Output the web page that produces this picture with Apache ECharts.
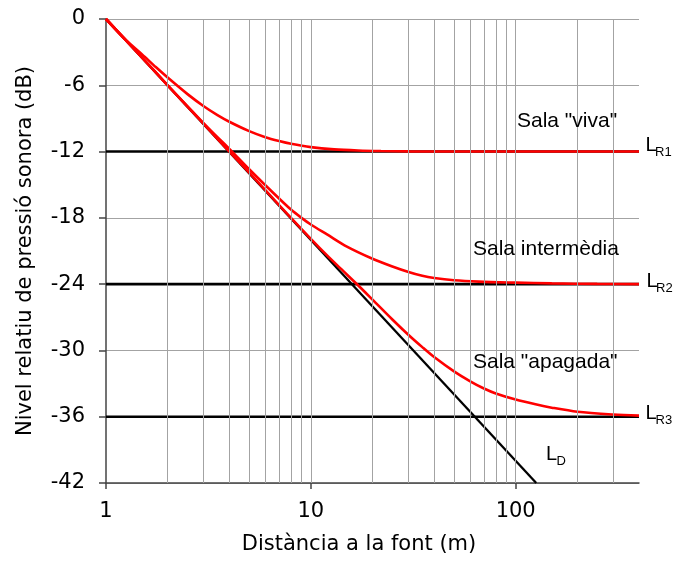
<!DOCTYPE html>
<html>
<head>
<meta charset="utf-8">
<script src="https://cdn.jsdelivr.net/npm/echarts@6/dist/echarts.min.js"></script>
<style>
  html, body { margin: 0; padding: 0; background: #fff; }
  #chart { width: 678px; height: 582px; }
</style>
</head>
<body>
<div id="chart"></div>
<script>
// Distance from the source (m), log scale
const xRange = [1, 400];
const xMajorTicks = [1, 10, 100];
const xGridLines = [2, 3, 4, 5, 6, 7, 8, 9, 10, 20, 30, 40, 50, 60, 70, 80, 90, 100, 200, 300];

// Relative level (dB)
const yRange = [-42, 0];
const yStep = 6;

// Reverberant field levels L_R1, L_R2, L_R3
const reverbLevels = [-12, -24, -36];

// Direct field L_D: straight line on the log axis
const directField = [[1, 0], [126, -42]];

// Total level in each room: [distance, dB]
const salaViva = [
  [1, 0], [1.25, -1.9], [1.5, -3.2], [1.75, -4.35], [2, -5.3], [2.5, -6.8], [3, -7.9],
  [3.5, -8.7], [4, -9.3], [5, -10.15], [6, -10.7], [7, -11.05], [8, -11.3], [10, -11.6],
  [13, -11.8], [17, -11.9], [22, -11.95], [30, -11.98], [45, -12], [400, -12]
];
const salaIntermedia = [
  [1, 0], [1.5, -3.5], [2, -6.0], [2.5, -7.9], [3, -9.45], [3.5, -10.7], [4, -11.75],
  [5, -13.6], [6, -15.05], [7, -16.25], [8, -17.25], [9, -18.0], [10, -18.6], [12, -19.5],
  [15, -20.6], [20, -21.7], [25, -22.4], [30, -22.9], [35, -23.25], [40, -23.45],
  [50, -23.65], [66, -23.77], [100, -23.86], [150, -23.93], [250, -23.98], [400, -24]
];
const salaApagada = [
  [1, 0], [1.5, -3.5], [2, -6.0], [3, -9.5], [4, -12.0], [5, -13.9], [6, -15.5],
  [8, -18.0], [10, -19.9], [12, -21.4], [14, -22.6], [17, -24.1], [20, -25.4],
  [25, -27.2], [30, -28.6], [35, -29.7], [40, -30.6], [50, -31.9], [60, -32.8],
  [70, -33.45], [80, -33.9], [100, -34.45], [125, -34.88], [150, -35.18], [200, -35.55],
  [300, -35.8], [400, -35.9]
];

const RED = '#ff0000';
const BLACK = '#000000';
const GRID = '#a3a3a3';
const AXIS = '#444444';
const AXIS_FONT = '"DejaVu Sans", Verdana, sans-serif';
const NOTE_FONT = '"Liberation Sans", Arial, sans-serif';

const chart = echarts.init(document.getElementById('chart'), null, { renderer: 'canvas' });

const series = [];

// vertical grid lines at 2..9, 20..90, 200, 300
series.push({
  type: 'line',
  data: [],
  z: 1,
  silent: true,
  markLine: {
    silent: true,
    symbol: ['none', 'none'],
    label: { show: false },
    lineStyle: { type: 'solid', color: GRID, width: 1 },
    emphasis: { disabled: true },
    animation: false,
    data: xGridLines.map(v => ({ xAxis: v }))
  }
});

reverbLevels.forEach(level => {
  series.push({
    type: 'line',
    data: [[xRange[0], level], [xRange[1], level]],
    symbol: 'none',
    z: 2,
    lineStyle: { color: BLACK, width: 2.6 },
    silent: true
  });
});

series.push({
  type: 'line',
  data: directField,
  symbol: 'none',
  z: 2,
  lineStyle: { color: BLACK, width: 2.3 },
  silent: true
});

[salaViva, salaIntermedia, salaApagada].forEach(curve => {
  series.push({
    type: 'line',
    data: curve,
    symbol: 'none',
    smooth: 0.3,
    z: 3,
    lineStyle: { color: RED, width: 2.6 },
    silent: true
  });
});

function note(text, x, y, size) {
  return {
    type: 'text',
    x: x,
    y: y,
    z: 10,
    style: {
      text: text,
      font: size + 'px ' + NOTE_FONT,
      fill: '#000',
      align: 'left',
      verticalAlign: 'middle'
    }
  };
}

const graphics = [
  note('Sala "viva"', 517, 121, 21),
  note('Sala intermèdia', 473, 249, 21),
  note('Sala "apagada"', 473, 362.5, 21),
  note('L', 645.5, 145.3, 20), note('R1', 655, 152.5, 13),
  note('L', 646.5, 281.5, 20), note('R2', 656, 288.5, 13),
  note('L', 645.5, 413.7, 20), note('R3', 655.5, 420.7, 13),
  note('L', 546, 454.2, 20), note('D', 556.5, 461, 13)
];

chart.setOption({
  animation: false,
  backgroundColor: '#ffffff',
  grid: {
    left: 106, right: 39, top: 19, bottom: 99,
    containLabel: false,
    outerBoundsMode: 'none'
  },
  xAxis: {
    type: 'log',
    logBase: 10,
    min: xRange[0],
    max: xRange[1],
    name: 'Distància a la font (m)',
    nameLocation: 'middle',
    nameGap: 51,
    nameTextStyle: { fontFamily: AXIS_FONT, fontSize: 21, color: '#000', padding: [0, 27, 0, 0] },
    axisLine: { onZero: false, lineStyle: { color: AXIS, width: 1.5 } },
    axisTick: { show: true, length: 6, customValues: xMajorTicks, lineStyle: { color: AXIS, width: 1.5 } },
    axisLabel: {
      customValues: xMajorTicks,
      margin: 18,
      fontFamily: AXIS_FONT, fontSize: 21, color: '#000',
      formatter: v => String(Math.round(v))
    },
    splitLine: { show: false },
    minorTick: { show: false },
    minorSplitLine: { show: false }
  },
  yAxis: {
    type: 'value',
    min: yRange[0],
    max: yRange[1],
    interval: yStep,
    name: 'Nivel relatiu de pressió sonora (dB)',
    nameLocation: 'middle',
    nameGap: 70,
    nameTextStyle: { fontFamily: AXIS_FONT, fontSize: 21, color: '#000' },
    axisLine: { show: true, onZero: false, lineStyle: { color: AXIS, width: 1.5 } },
    axisTick: { show: true, length: 7, lineStyle: { color: AXIS, width: 1.5 } },
    axisLabel: { margin: 21, fontFamily: AXIS_FONT, fontSize: 21, color: '#000' },
    splitLine: { show: true, lineStyle: { color: GRID, width: 1.2 } }
  },
  series: series,
  graphic: graphics
});
</script>
</body>
</html>
